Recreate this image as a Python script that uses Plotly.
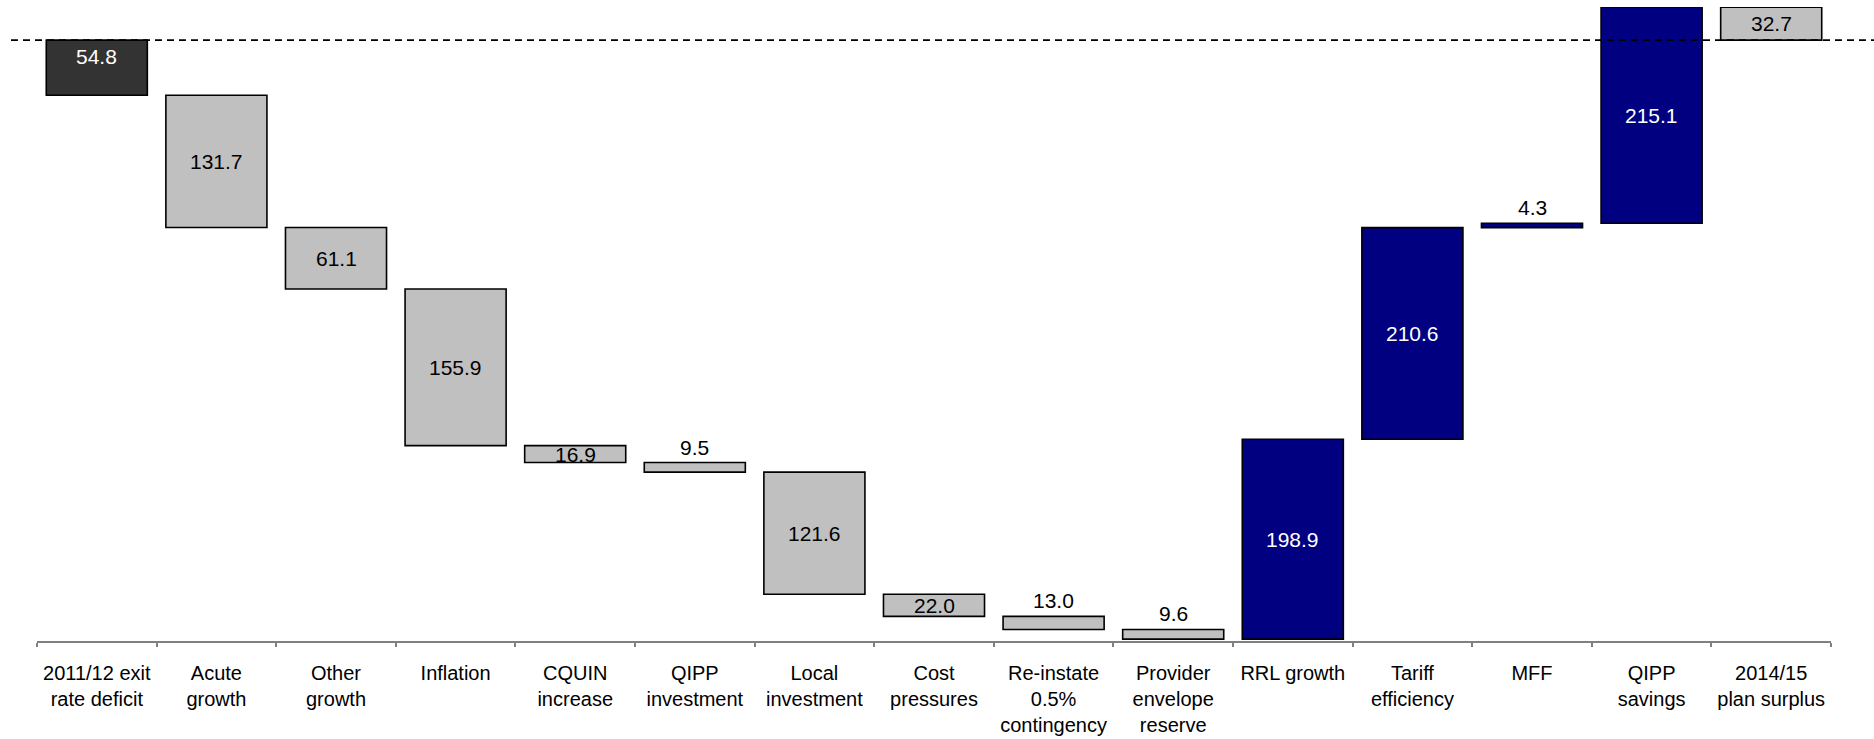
import plotly.graph_objects as go

# Bridge from 2011/12 exit rate deficit to 2014/15 plan surplus (£m)
categories = [
    "2011/12 exit<br>rate deficit",
    "Acute<br>growth",
    "Other<br>growth",
    "Inflation",
    "CQUIN<br>increase",
    "QIPP<br>investment",
    "Local<br>investment",
    "Cost<br>pressures",
    "Re-instate<br>0.5%<br>contingency",
    "Provider<br>envelope<br>reserve",
    "RRL growth",
    "Tariff<br>efficiency",
    "MFF",
    "QIPP<br>savings",
    "2014/15<br>plan surplus",
]

# Movements: negative = cost pressure / deficit, positive = funding / savings
movements = [-54.8, -131.7, -61.1, -155.9, -16.9, -9.5, -121.6, -22.0,
             -13.0, -9.6, 198.9, 210.6, 4.3, 215.1]
closing_surplus = 32.7

COL_OPEN = "#333333"
COL_COST = "#C0C0C0"
COL_GAIN = "#000080"
COL_CLOSE = "#C0C0C0"

# Floating bars: each step starts where the running total left off
bases, heights, colors = [], [], []
running = 0.0
for i, m in enumerate(movements):
    bases.append(running)
    heights.append(m)
    if i == 0:
        colors.append(COL_OPEN)
    elif m < 0:
        colors.append(COL_COST)
    else:
        colors.append(COL_GAIN)
    running += m
bases.append(0.0)
heights.append(closing_surplus)
colors.append(COL_CLOSE)

fig = go.Figure(go.Bar(
    x=categories,
    y=heights,
    base=bases,
    marker=dict(color=colors, line=dict(color="#000000", width=1.6)),
    hoverinfo="skip",
))

FONT = "Liberation Sans, Arial, sans-serif"
annotations = []
for i, (b, h, c) in enumerate(zip(bases, heights, colors)):
    lo, hi = min(b, b + h), max(b, b + h)
    txt = f"{abs(h):.1f}"
    dark = c in (COL_OPEN, COL_GAIN)
    if abs(h) < 15:
        # thin bars: value sits just above the bar
        annotations.append(dict(x=categories[i], y=hi, text=txt, showarrow=False,
                                yanchor="bottom", yshift=2,
                                font=dict(family=FONT, size=21, color="#000000")))
    elif i == 0:
        annotations.append(dict(x=categories[i], y=hi, text=txt, showarrow=False,
                                yanchor="top", yshift=-3,
                                font=dict(family=FONT, size=21, color="#FFFFFF")))
    else:
        annotations.append(dict(x=categories[i], y=(lo + hi) / 2, text=txt, showarrow=False,
                                yanchor="middle",
                                font=dict(family=FONT, size=21,
                                          color="#FFFFFF" if dark else "#000000")))

fig.update_layout(
    width=1874,
    height=739,
    margin=dict(l=37, r=43, t=7, b=98),
    paper_bgcolor="#FFFFFF",
    plot_bgcolor="#FFFFFF",
    bargap=0.155,
    showlegend=False,
    annotations=annotations,
    shapes=[dict(type="line", xref="paper", yref="y",
                 x0=-0.0145, x1=1.03, y0=0, y1=0, layer="above",
                 line=dict(color="#000000", width=1.6, dash="7px,5px"))],
    xaxis=dict(
        type="category",
        showline=True, linecolor="#808080", linewidth=2,
        ticks="outside", ticklen=4, tickcolor="#808080", tickwidth=1.5,
        tickson="boundaries",
        tickangle=0,
        automargin=False,
        tickfont=dict(family=FONT, size=20, color="#000000"),
        ticklabelstandoff=13,
        showgrid=False, zeroline=False,
    ),
    yaxis=dict(range=[-598, 33], visible=False, showgrid=False, zeroline=False),
)

fig.write_html("out.html")
